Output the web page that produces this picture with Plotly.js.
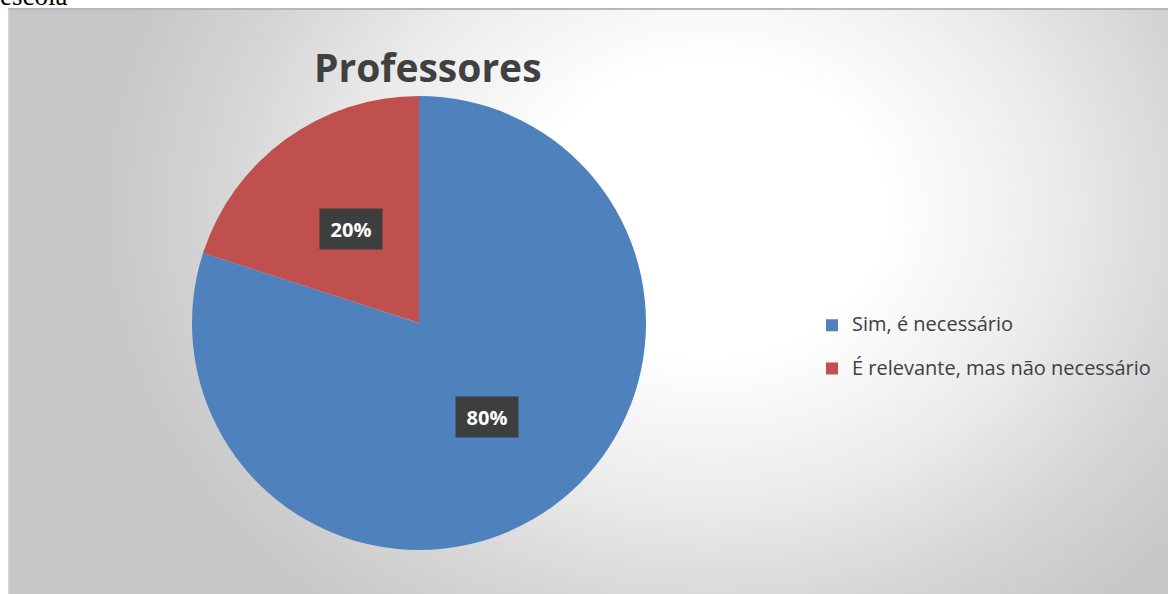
<!DOCTYPE html>
<html>
<head>
<meta charset="utf-8">
<script src="https://cdn.plot.ly/plotly-3.0.1.min.js"></script>
<style>
  html, body { margin: 0; padding: 0; background: #ffffff; }
  #wrap { position: relative; width: 1168px; height: 594px; overflow: hidden; background: #ffffff; }
  #bg { position: absolute; left: 8px; top: 8px; width: 1160px; height: 586px;
        border-top: 2px solid #b8b8b8; border-left: 2px solid #d0d0d0; box-sizing: border-box;
        background: radial-gradient(ellipse 620px 520px at 700px 200px, #ffffff 0%, #ffffff 28%, #ececec 55%, #d6d6d6 78%, #c6c6c6 100%); }
  #doc { position: absolute; left: 0px; top: -19px; font-family: "Liberation Serif", "DejaVu Serif", serif; font-size: 27px; color: #000; }
  #chart { position: absolute; left: 0; top: 0; width: 1168px; height: 594px; }
</style>
</head>
<body>
<div id="wrap">
  <div id="bg"></div>
  <div id="doc">escola</div>
  <div id="chart"></div>
</div>
<script>
const chartTitle = "Professores";
const labels = ["Sim, é necessário", "É relevante, mas não necessário"];
const values = [80, 20];
const colors = ["#4f81bd", "#c0504d"];

const W = 1168, H = 594;
const cx = 419, cy = 323, R = 227;
const domX = [(cx - R) / W, (cx + R) / W];
const domY = [1 - (cy + R) / H, 1 - (cy - R) / H];

const total = values.reduce((a, b) => a + b, 0);
let cum = 0;
const annotations = [];
values.forEach((v, i) => {
  const mid = 2 * Math.PI * (cum + v / 2) / total;
  cum += v;
  const k = 0.51;
  annotations.push({
    xref: "paper", yref: "paper",
    x: (cx + k * R * Math.sin(mid)) / W,
    y: 1 - (cy - k * R * Math.cos(mid)) / H,
    text: "<b>" + Math.round(100 * v / total) + "%</b>",
    showarrow: false,
    font: { family: "Open Sans, Noto Sans, sans-serif", size: 20, color: "#ffffff" },
    bgcolor: "#3d3f3f",
    width: 60, height: 38,
    xanchor: "center", yanchor: "middle"
  });
});

annotations.push({
  xref: "paper", yref: "paper",
  x: 428 / W, y: 1 - 67 / H,
  text: "<b>" + chartTitle + "</b>",
  showarrow: false,
  font: { family: "Open Sans, Noto Sans, sans-serif", size: 39, color: "#404040" },
  xanchor: "center", yanchor: "middle"
});

const data = [{
  type: "pie",
  labels: labels.map(l => '<span style="font-size:20px;baseline-shift:6px">' + l + '</span>'),
  values: values,
  marker: { colors: colors, line: { width: 0 } },
  sort: false,
  direction: "clockwise",
  rotation: 0,
  textinfo: "none",
  hoverinfo: "label+percent",
  domain: { x: domX, y: domY }
}];

const layout = {
  width: W, height: H,
  margin: { l: 0, r: 0, t: 0, b: 0 },
  paper_bgcolor: "rgba(0,0,0,0)",
  plot_bgcolor: "rgba(0,0,0,0)",
  showlegend: true,
  legend: {
    x: 812 / W, y: 1 - 347 / H,
    xanchor: "left", yanchor: "middle",
    font: { family: "Open Sans, Noto Sans, sans-serif", size: 31, color: "#404040" },
    bgcolor: "rgba(255,255,255,0)",
    itemclick: false
  },
  annotations: annotations
};

Plotly.newPlot("chart", data, layout, { displayModeBar: false, staticPlot: true });
</script>
</body>
</html>
